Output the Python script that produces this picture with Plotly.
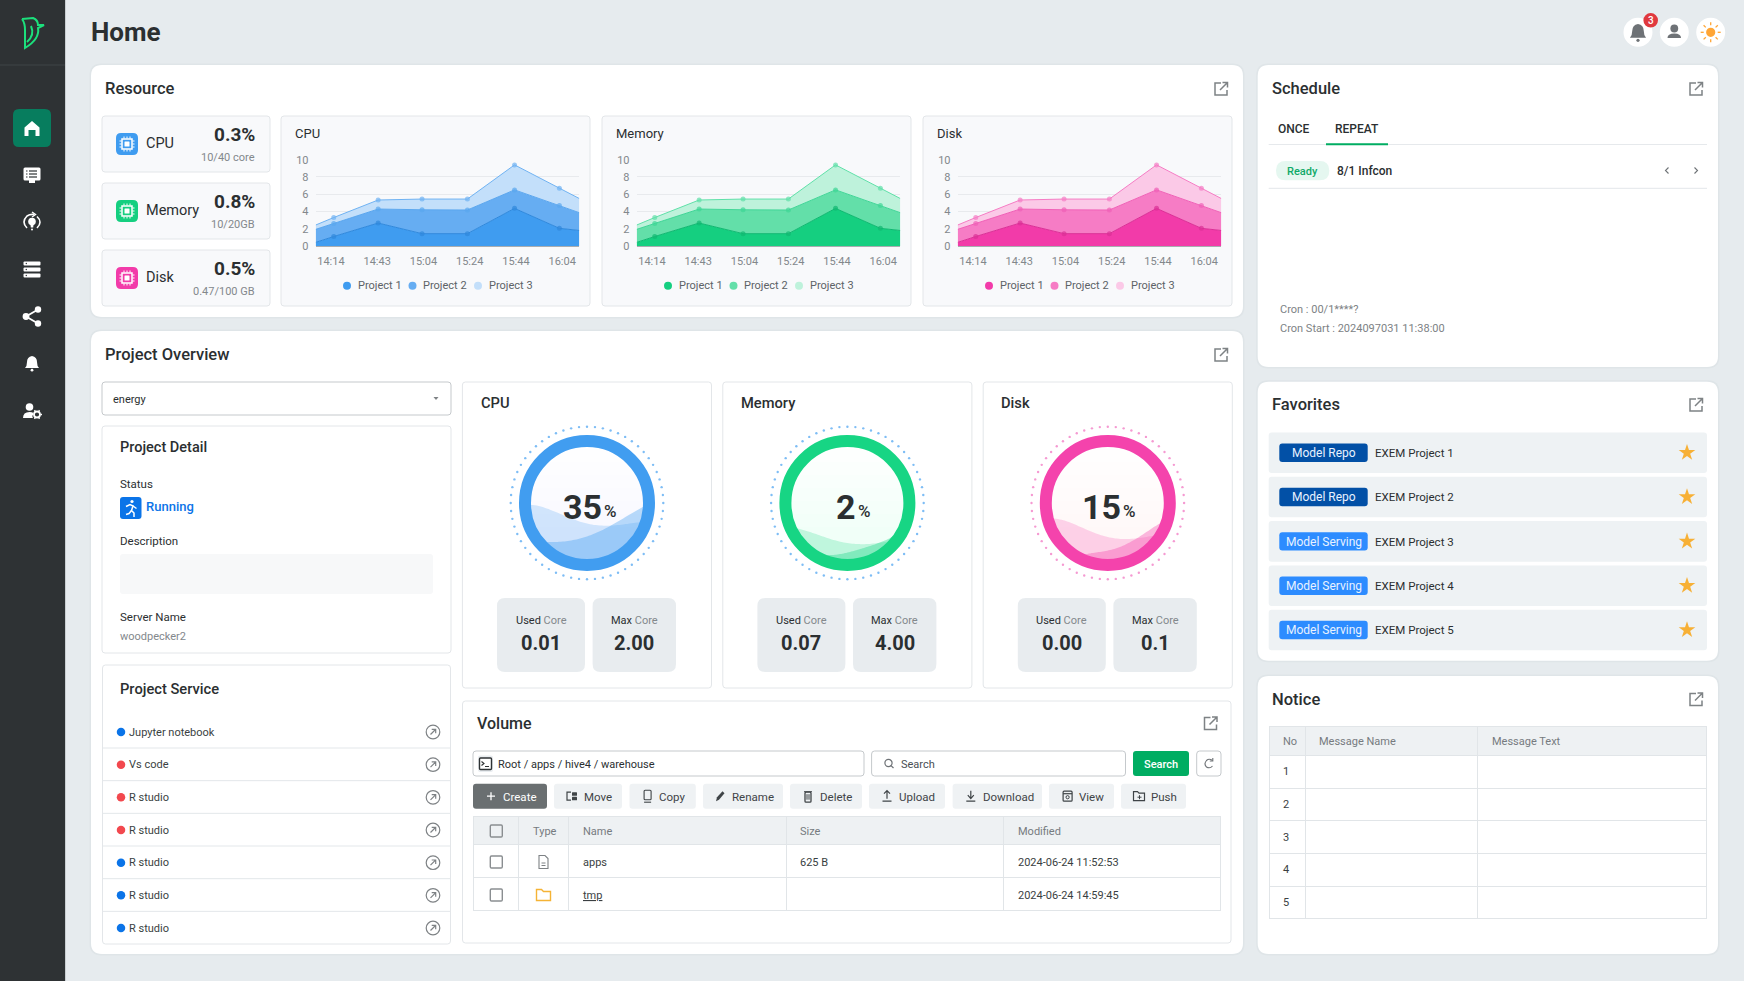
import numpy as np
import plotly.graph_objects as go

W, H = 1744, 981

# chart data
time_labels = ["14:14", "14:43", "15:04", "15:24", "15:44", "16:04"]
time_ticks = [0, 1, 2, 3, 4, 5]
sample_pos = [-0.33, 0.06, 1.02, 1.97, 2.95, 3.97, 4.94, 5.37]
project1 = [0.42, 1.10, 2.66, 1.43, 1.43, 4.36, 2.05, 1.80]
project2 = [1.51, 1.50, 1.62, 2.77, 2.74, 2.14, 2.65, 2.06]
project3 = [0.50, 0.70, 1.05, 1.24, 1.27, 2.90, 2.00, 1.64]
project_names = ["Project 1", "Project 2", "Project 3"]
y_ticks = [0, 2, 4, 6, 8, 10]

resources = ["CPU", "Memory", "Disk"]
usage_pct = ["0.3%", "0.8%", "0.5%"]
usage_sub = ["10/40 core", "10/20GB", "0.47/100 GB"]
gauge_pct = [35, 2, 15]
used_core = ["0.01", "0.07", "0.00"]
max_core = ["2.00", "4.00", "0.1"]

services = ["Jupyter notebook", "Vs code", "R studio", "R studio", "R studio", "R studio", "R studio"]
service_up = [True, False, False, False, True, True, True]
toolbar = ["Create", "Move", "Copy", "Rename", "Delete", "Upload", "Download", "View", "Push"]
fav_type = ["Model Repo", "Model Repo", "Model Serving", "Model Serving", "Model Serving"]
fav_name = ["EXEM Project 1", "EXEM Project 2", "EXEM Project 3", "EXEM Project 4", "EXEM Project 5"]
volume_header = ["Type", "Name", "Size", "Modified"]
volume_name = ["apps", "<u>tmp</u>"]
volume_size = ["625 B", ""]
volume_modified = ["2024-06-24 11:52:53", "2024-06-24 14:59:45"]
notice_header = ["No", "Message Name", "Message Text"]
notice_no = ["1", "2", "3", "4", "5"]

# colours
BG = "#E6EBEE"
DARK = "#2B2F31"
GREY = "#83888C"
EDGE = "#E3E7EA"
FONT = "Roboto"
fills = [["#3F9CF0", "#66ADF2", "#C3DFFA"], ["#15CF80", "#63DFA9", "#BEF2DB"], ["#F23BA9", "#F67CC5", "#FBC9E7"]]
lines = [["#2F88DC", "#5AA6EE", "#6FB2F2"], ["#10B871", "#3FD596", "#5FE0A8"], ["#DB2F96", "#F05FB6", "#F57CC4"]]
ring_rgb = [(65, 157, 240), (23, 213, 132), (244, 67, 172)]
dot_col = ["#7EBDF5", "#7EBDF5", "#F59AD2"]

shapes = []
notes = []
fig = go.Figure()


def rrect(x0, y0, x1, y1, r, fill, line=None, lw=1, layer="below"):
    p = (f"M {x0+r},{y0} L {x1-r},{y0} Q {x1},{y0} {x1},{y0+r} L {x1},{y1-r} Q {x1},{y1} {x1-r},{y1} "
         f"L {x0+r},{y1} Q {x0},{y1} {x0},{y1-r} L {x0},{y0+r} Q {x0},{y0} {x0+r},{y0} Z")
    shapes.append(dict(type="path", path=p, fillcolor=fill, layer=layer, xref="x", yref="y",
                       line=dict(color=line or "rgba(0,0,0,0)", width=lw if line else 0)))


def path(p, color=None, fill=None, lw=1.5, layer="below"):
    shapes.append(dict(type="path", path=p, layer=layer, xref="x", yref="y",
                       fillcolor=fill or "rgba(0,0,0,0)",
                       line=dict(color=color or "rgba(0,0,0,0)", width=lw if color else 0)))


def circle(cx, cy, r, fill=None, color=None, lw=1.5, layer="below"):
    shapes.append(dict(type="circle", x0=cx-r, x1=cx+r, y0=cy-r, y1=cy+r, layer=layer, xref="x", yref="y",
                       fillcolor=fill or "rgba(0,0,0,0)",
                       line=dict(color=color or "rgba(0,0,0,0)", width=lw if color else 0)))


def hline(x0, x1, y, color=EDGE, lw=1):
    shapes.append(dict(type="line", x0=x0, x1=x1, y0=y, y1=y, layer="below", xref="x", yref="y",
                       line=dict(color=color, width=lw)))


def txt(x, y, s, size=11, color=DARK, anchor="left", weight=400):
    notes.append(dict(x=x, y=y, xref="x", yref="y", text=s, showarrow=False, xanchor=anchor, yanchor="middle",
                      borderpad=0, borderwidth=0, font=dict(family=FONT, size=size, color=color, weight=weight)))


def dots(xs, ys, color, size, symbol="circle"):
    fig.add_trace(go.Scatter(x=xs, y=ys, mode="markers", hoverinfo="skip", showlegend=False, xaxis="x", yaxis="y",
                             marker=dict(color=color, size=size, symbol=symbol, line=dict(width=0))))


def card(x0, y0, x1, y1):
    rrect(x0-1.5, y0-1.5, x1+1.5, y1+1.5, 12, "#DFE5E8")
    rrect(x0, y0, x1, y1, 11, "white")


def expand_icon(cx, cy):
    c = "#7E8285"
    path(f"M {cx},{cy-6} L {cx-6},{cy-6} L {cx-6},{cy+6} L {cx+6},{cy+6} L {cx+6},{cy+1}", color=c)
    path(f"M {cx-1},{cy+1} L {cx+6},{cy-6} M {cx+1.5},{cy-6.5} L {cx+6.5},{cy-6.5} L {cx+6.5},{cy-1.5}", color=c)


def bell(cx, cy, col, s=1.0, layer="below"):
    p = (f"M {cx-7*s},{cy+5*s} Q {cx-5*s},{cy+3*s} {cx-5*s},{cy-1*s} Q {cx-5*s},{cy-6*s} {cx},{cy-7*s} "
         f"Q {cx+5*s},{cy-6*s} {cx+5*s},{cy-1*s} Q {cx+5*s},{cy+3*s} {cx+7*s},{cy+5*s} Z")
    path(p, fill=col, layer=layer)
    circle(cx, cy+7.2*s, 1.4*s, fill=col)


def chip(cx, cy, col):
    rrect(cx-11, cy-11, cx+11, cy+11, 5, col)
    path(f"M {cx-5},{cy-5} L {cx+5},{cy-5} L {cx+5},{cy+5} L {cx-5},{cy+5} Z", color="white", lw=1.5)
    rrect(cx-2.5, cy-2.5, cx+2.5, cy+2.5, 0.5, "white")
    for d in (-3, 0, 3):
        path(f"M {cx+d},{cy-7.5} L {cx+d},{cy-5.5} M {cx+d},{cy+5.5} L {cx+d},{cy+7.5} "
             f"M {cx-7.5},{cy+d} L {cx-5.5},{cy+d} M {cx+5.5},{cy+d} L {cx+7.5},{cy+d}", color="white", lw=1)


def wave(cx, cy, r, ctrl, fill):
    # area under a control curve, clipped to the gauge disc
    zx = np.array([p[0] for p in ctrl], float)
    zy = np.array([p[1] for p in ctrl], float)
    co = np.polyfit(zx, zy, 4)
    xs = np.linspace(zx[0]-12, zx[-1]+12, 70)
    ys = np.polyval(co, xs)
    keep = xs**2 + ys**2 <= r**2
    xs, ys = xs[keep], ys[keep]
    a1 = np.arctan2(ys[-1], xs[-1])
    a2 = np.arctan2(ys[0], xs[0]) % (2*np.pi)
    arc = np.linspace(a1, a2, 40)
    px = np.r_[xs, r*np.cos(arc)] + cx
    py = np.r_[ys, r*np.sin(arc)] + cy
    path("M " + " L ".join(f"{a:.1f},{b:.1f}" for a, b in zip(px, py)) + " Z", fill=fill)


# page frame and sidebar
rrect(-5, -5, 65, H+5, 0, "#2E3234")
shapes.append(dict(type="line", x0=65.5, x1=65.5, y0=0, y1=H, layer="below", xref="x", yref="y",
                   line=dict(color="#C9CED1", width=1)))
hline(0, 65, 65, "#3F4446", 1)
path("M 22,19 L 33,18 Q 38,20 38,25 L 44,25 L 38,28 Q 40,39 25,48 L 25,30 Q 25,23 22,19", color="#1CE07C", lw=2)
path("M 31,26 Q 35,35 27,42", color="#1CE07C", lw=2)
rrect(13, 109, 51, 147, 6, "#077D5E")
path("M 32,121 L 39.5,127.5 L 39.5,136 L 35.5,136 L 35.5,130 L 28.5,130 L 28.5,136 L 24.5,136 L 24.5,127.5 Z", fill="white")
# chat
rrect(23.5, 167.5, 40.5, 180.5, 1.5, "white")
path("M 29,180 L 35,180 L 35,183 L 29,183 Z", fill="white")
for yy in (171, 174, 177):
    hline(29, 37, yy, "#2E3234", 1.2)
    hline(26, 27.5, yy, "#2E3234", 1.2)
# cycle + bulb
path("M 27,228 Q 21,222 27,216 Q 30,214 34,214.5 M 37,216.5 Q 43,222 37,228", color="white", lw=1.6)
path("M 32,212 L 35.5,214.5 L 32,217", color="white", lw=1.4)
circle(32, 221.5, 3.8, fill="white")
path("M 30.4,224 L 33.6,224 L 33.2,227.5 L 30.8,227.5 Z", fill="white")
circle(32, 229.5, 1, fill="white")
# servers
for yy in (263.5, 269.5, 275.5):
    rrect(23.5, yy-2, 40.5, yy+2, 1, "white")
    circle(26.3, yy, 0.7, fill="#2E3234")
# share
path("M 38,309.5 L 26,316.5 L 38,323.5", color="white", lw=1.8)
circle(38, 309.5, 3.2, fill="white")
circle(26, 316.5, 3.4, fill="white")
circle(38, 323.5, 3.2, fill="white")
bell(32, 363, "white")
# user + gear
circle(29.5, 407, 3.8, fill="white")
path("M 23,418 Q 23,412 29.5,412 Q 32,412 33.5,413 Q 31.5,416 33,418 Z", fill="white")
circle(37, 414.5, 3, color="white", lw=1.8)
for ang in np.arange(0, 360, 60):
    ax, ay = np.cos(np.radians(ang)), np.sin(np.radians(ang))
    path(f"M {37+3.6*ax:.1f},{414.5+3.6*ay:.1f} L {37+5*ax:.1f},{414.5+5*ay:.1f}", color="white", lw=1.3)

txt(91, 32, "Home", 26, DARK, weight=700)
# header buttons
for cx in (1638, 1674.3, 1710.7):
    circle(cx, 32.3, 14.5, fill="white")
bell(1638, 32, "#6E7276", s=1.15)
circle(1650.7, 20.3, 7.3, fill="#E0393E")
txt(1650.7, 20.6, "3", 10, "white", "center", 500)
circle(1674.3, 28.5, 3.9, fill="#6E7276")
path("M 1667.5,38 Q 1667.5,33.5 1674.3,33.5 Q 1681,33.5 1681,38 Z", fill="#6E7276")
circle(1710.7, 32.3, 4.6, fill="#FFA535")
for ang in np.arange(0, 360, 45):
    ax, ay = np.cos(np.radians(ang)), np.sin(np.radians(ang))
    path(f"M {1710.7+7*ax:.1f},{32.3+7*ay:.1f} L {1710.7+10*ax:.1f},{32.3+10*ay:.1f}", color="#FFA535", lw=1.3)

# resource card
card(91, 65, 1243, 317)
txt(105, 88, "Resource", 16.5, DARK, weight=500)
expand_icon(1221, 89)
for i, res in enumerate(resources):
    y0 = 116 + 67*i
    rrect(102, y0, 270, y0+56, 3, "#F8F9FB", "#E3E6E9")
    chip(127, y0+28, fills[i][0])
    txt(145.5, y0+27.5, res, 14.5, DARK)
    txt(254.5, y0+18.5, usage_pct[i], 19, DARK, "right", 700)
    txt(254.5, y0+41, usage_sub[i], 11, GREY, "right")

# area charts
layout_axes = {}
for i, res in enumerate(resources):
    off = 321*i
    rrect(281+off, 116, 590+off, 306, 3, "#F8F9FB", "#E3E6E9")
    txt(295+off, 133, res, 13, DARK)
    n = i + 2
    for j, series in enumerate([project1, project2, project3]):
        sizes = [0] + [5]*6 + [0]
        fig.add_trace(go.Scatter(x=sample_pos, y=series, mode="lines+markers", stackgroup=f"s{n}",
                                 name=project_names[j], showlegend=False, xaxis=f"x{n}", yaxis=f"y{n}",
                                 fillcolor=fills[i][j], line=dict(color=lines[i][j], width=1),
                                 marker=dict(color=lines[i][j], size=sizes, line=dict(width=0))))
    layout_axes[f"xaxis{n}"] = dict(domain=[(315.7+off)/W, (579.3+off)/W], range=[sample_pos[0], sample_pos[-1]],
                                    anchor=f"y{n}", tickmode="array", tickvals=time_ticks, ticktext=time_labels,
                                    showgrid=False, zeroline=False, showline=False, ticks="outside", ticklen=5,
                                    tickcolor="rgba(0,0,0,0)", tickfont=dict(family=FONT, size=11, color=GREY),
                                    fixedrange=True)
    layout_axes[f"yaxis{n}"] = dict(domain=[1-246/H, 1-159.7/H], range=[0, 10], anchor=f"x{n}", tickmode="array",
                                    tickvals=y_ticks, showgrid=True, gridcolor="#E8EAED", gridwidth=1,
                                    zeroline=True, zerolinecolor="#A9ADB1", zerolinewidth=1.5, showline=False,
                                    ticks="outside", ticklen=4, tickcolor="rgba(0,0,0,0)",
                                    tickfont=dict(family=FONT, size=11, color=GREY), fixedrange=True)
    for j in range(3):
        dots([347+off+65.5*j], [285.7], fills[i][j], 8)
        txt(357.7+off+65.5*j, 285.7, project_names[j], 11, "#5D6367")

# project overview card
card(91, 331, 1243, 954)
txt(105, 354, "Project Overview", 16.5, DARK, weight=500)
expand_icon(1221, 355)
rrect(102, 382, 451, 415, 3, "white", "#C5C9CC")
txt(112.5, 399, "energy", 11, DARK)
path("M 433.5,397 L 438.5,397 L 436,400 Z", fill="#7E8285")
rrect(102, 426, 451, 653, 3, "white", "#E3E6E9")
txt(120, 447, "Project Detail", 14.5, DARK, weight=500)
txt(120, 484, "Status", 11.5, DARK)
rrect(120, 497, 141.5, 519, 3, "#0B74E8")
circle(132, 501.5, 1.6, fill="white")
path("M 126,506.5 L 130,504.5 L 133,506 L 131.5,510.5 L 134,513 L 134,517", color="white", lw=1.5)
path("M 133,506 L 136.5,508.5 M 131.5,510.5 L 129,513.5 L 126,514.5", color="white", lw=1.5)
txt(146, 506, "Running", 13, "#0B74E8", weight=500)
txt(120, 541, "Description", 11.5, DARK)
rrect(120, 554, 433, 594, 3, "#F7F8F9")
txt(120, 617, "Server Name", 11.5, DARK)
txt(120, 636, "woodpecker2", 11, GREY)

rrect(102.5, 665, 450.5, 944, 3, "white", "#E3E6E9")
txt(120, 689, "Project Service", 14.7, DARK, weight=500)
for i, name in enumerate(services):
    yy = 732 + 32.67*i
    dots([121], [yy], "#0B74E8" if service_up[i] else "#F2484E", 8.5)
    txt(129, yy, name, 11, "#3A3F42")
    circle(433, yy, 6.8, color="#7E8285", lw=1.2)
    path(f"M {433-2.5},{yy+2.5} L {433+2.5},{yy-2.5} M {433-1.3},{yy-2.7} L {433+2.7},{yy-2.7} L {433+2.7},{yy+1.3}",
         color="#7E8285", lw=1.2)
    if i < 6:
        hline(103, 450, yy+16, "#E3E7EA")

# gauges
wave_back = [
    [(123, 287), (150, 285), (200, 310), (270, 335), (340, 345), (400, 345), (459, 336)],
    [(145, 357), (170, 362), (210, 378), (270, 395), (330, 402), (380, 400), (430, 392)],
    [(135, 327), (165, 330), (210, 352), (270, 375), (330, 385), (390, 385), (445, 375)],
]
wave_front = [
    [(170, 396), (240, 392), (320, 368), (400, 325), (459, 291)],
    [(240, 435), (290, 428), (340, 414), (400, 393), (430, 378)],
    [(230, 432), (300, 420), (380, 385), (415, 362), (450, 340)],
]
num_right = [14.5, 8.5, 13.5]
for i, res in enumerate(resources):
    off = 260.4*i
    rrect(462.4+off, 382, 711.5+off, 688, 3, "white", "#E3E6E9")
    txt(480.5+off, 403, res, 14.7, DARK, weight=500)
    cx, cy = 587+off, 503
    rgb = ",".join(str(c) for c in ring_rgb[i])
    ang = np.arange(60) * 2*np.pi/60
    dots(cx + 76.3*np.cos(ang), cy + 76.3*np.sin(ang), dot_col[i], 2.4)
    circle(cx, cy, 58, fill="white")
    # soft tint growing toward the bottom of the disc
    for level in np.linspace(-54, 50, 9):
        half = np.arccos(level/58)
        arc = np.linspace(np.pi/2-half, np.pi/2+half, 30)
        seg = "M " + " L ".join(f"{cx+58*np.cos(a):.1f},{cy+58*np.sin(a):.1f}" for a in arc) + " Z"
        path(seg, fill=f"rgba({rgb},0.0085)")
    cxz = 291 if i < 2 else 293
    wave(cx, cy, 58, [((a-cxz)/3, (b-279)/3) for a, b in wave_back[i]], f"rgba({rgb},0.22)")
    wave(cx, cy, 58, [((a-cxz)/3, (b-279)/3) for a, b in wave_front[i]], f"rgba({rgb},0.36)")
    circle(cx, cy, 62, color=f"rgb({rgb})", lw=12)
    txt(cx+num_right[i], 507, str(gauge_pct[i]), 34, DARK, "right", 700)
    txt(cx+num_right[i]+2, 511, "%", 17, DARK, "left", 500)
    rrect(497+off, 598, 585+off, 672, 8, "#E8ECEF")
    rrect(592.6+off, 598, 676+off, 672, 8, "#E8ECEF")
    txt(541+off, 620.7, f"Used <span style='color:{GREY}'>Core</span>", 11, DARK, "center")
    txt(634.3+off, 620.7, f"Max <span style='color:{GREY}'>Core</span>", 11, DARK, "center")
    txt(541+off, 643, used_core[i], 20, DARK, "center", 700)
    txt(634.3+off, 643, max_core[i], 20, DARK, "center", 700)

# volume panel
rrect(462.5, 701, 1231, 943, 3, "white", "#E3E6E9")
txt(477, 723, "Volume", 16, DARK, weight=500)
expand_icon(1210.5, 723.5)
rrect(473, 751, 864, 776, 3, "white", "#C5C9CC")
rrect(478, 755.5, 493, 772, 2, "#E9EDF0")
rrect(479.5, 758, 491.5, 769.5, 1, "white", "#2E3234", 1.4)
path("M 481.5,761.5 L 484,763.5 L 481.5,765.5 M 485,766.5 L 489,766.5", color="#2E3234", lw=1.1)
txt(498.3, 764, "Root / apps / hive4 / warehouse", 11, DARK)
rrect(871.6, 751, 1125.5, 776, 3, "white", "#C5C9CC")
circle(888.5, 763, 3.6, color="#6E7276", lw=1.2)
path("M 891,765.6 L 893.5,768", color="#6E7276", lw=1.2)
txt(900.6, 764, "Search", 11, "#4A4F53")
rrect(1133, 751, 1189, 776, 3, "#00AD62")
txt(1161, 764, "Search", 11, "white", "center", 500)
rrect(1196.7, 751, 1221, 776, 3, "white", "#C5C9CC")
path("M 1212.5,760.5 Q 1209,758 1206.5,760.5 Q 1203.5,764 1206.5,767 Q 1210,769 1212.5,766", color="#6E7276", lw=1.1)
path("M 1212.8,758 L 1212.8,761 L 1209.8,761", color="#6E7276", lw=1.1)

btn_x0 = [473, 554, 629.5, 703, 790, 869, 952.6, 1049, 1121]
btn_x1 = [547, 622, 695.8, 783, 862, 945, 1042, 1114, 1186]
btn_text = [503, 584, 659, 732, 819.5, 899, 982.6, 1079, 1150.6]
btn_icon = [491, 572, 647.6, 720, 808, 887, 970.8, 1067.6, 1139]
for i, name in enumerate(toolbar):
    first = i == 0
    rrect(btn_x0[i], 783.7, btn_x1[i], 808.7, 3, "#6A6F71" if first else "#EFF2F4")
    txt(btn_text[i], 796.5, name, 11.5, "white" if first else "#3F4447")
ic = "#3F4447"
bx, by = btn_icon, 796.2
path(f"M {bx[0]-4},{by} L {bx[0]+4},{by} M {bx[0]},{by-4} L {bx[0]},{by+4}", color="white", lw=1.3)
path(f"M {bx[1]-1},{by-4} L {bx[1]-5},{by-4} L {bx[1]-5},{by+4} L {bx[1]-1},{by+4}", color=ic, lw=1.2)
rrect(bx[1], by-4, bx[1]+5, by-0.5, 0.5, ic)
rrect(bx[1], by+0.5, bx[1]+5, by+4, 0.5, ic)
rrect(bx[2]-3.5, by-6, bx[2]+3.5, by+3.5, 1, "rgba(0,0,0,0)", ic, 1.1)
path(f"M {bx[2]-3.5},{by+6} L {bx[2]+3.5},{by+6}", color=ic, lw=1.1)
path(f"M {bx[3]-4},{by+5} L {bx[3]-3},{by+1} L {bx[3]+2.5},{by-5} L {bx[3]+4.5},{by-3} L {bx[3]-1},{by+3.5} Z", fill=ic)
rrect(bx[4]-3, by-4, bx[4]+3, by+6, 1, "rgba(0,0,0,0)", ic, 1.3)
path(f"M {bx[4]-4},{by-4.5} L {bx[4]+4},{by-4.5} M {bx[4]-1},{by-2} L {bx[4]-1},{by+3.5} M {bx[4]+1},{by-2} L {bx[4]+1},{by+3.5}", color=ic, lw=1)
path(f"M {bx[5]},{by+2.5} L {bx[5]},{by-5} M {bx[5]-3},{by-2.5} L {bx[5]},{by-5.5} L {bx[5]+3},{by-2.5} M {bx[5]-4.5},{by+5} L {bx[5]+4.5},{by+5}", color=ic, lw=1.2)
path(f"M {bx[6]},{by-5.5} L {bx[6]},{by+2} M {bx[6]-3},{by-1} L {bx[6]},{by+2.5} L {bx[6]+3},{by-1} M {bx[6]-4.5},{by+5} L {bx[6]+4.5},{by+5}", color=ic, lw=1.2)
rrect(bx[7]-4.5, by-5, bx[7]+4.5, by+5, 1, "rgba(0,0,0,0)", ic, 1.2)
path(f"M {bx[7]-4.5},{by-2.5} L {bx[7]+4.5},{by-2.5}", color=ic, lw=1.2)
circle(bx[7], by+1, 1.6, color=ic, lw=1)
path(f"M {bx[8]-5.5},{by+4.5} L {bx[8]-5.5},{by-4.5} L {bx[8]-1.5},{by-4.5} L {bx[8]},{by-3} L {bx[8]+5.5},{by-3} L {bx[8]+5.5},{by+4.5} Z", color=ic, lw=1.2)
path(f"M {bx[8]-1.5},{by+1} L {bx[8]+2.5},{by+1} M {bx[8]+0.5},{by-1} L {bx[8]+0.5},{by+3}", color=ic, lw=1)


def table_grid(x0, y0, x1, y1, widths, head_h, row_h, n_rows):
    # grid only: a table trace pins its text to the top of the cell, so labels go on as annotations
    blanks = [""] * len(widths)
    fig.add_trace(go.Table(
        domain=dict(x=[x0/W, x1/W], y=[1-y1/H, 1-y0/H]), columnwidth=widths,
        header=dict(values=blanks, height=head_h, fill_color="#EEF1F3", line=dict(color="#E1E5E8", width=1)),
        cells=dict(values=[[""]*n_rows for _ in widths], height=row_h, fill_color="white",
                   line=dict(color="#E1E5E8", width=1)),
    ))


table_grid(473, 816.7, 1221, 912, [45.5, 50, 218, 217.5, 217], 28, 32.7, 2)
for x, label in zip([533, 582.8, 800.4, 1018], volume_header):
    txt(x, 831, label, 11, "#767B7F")
for r, yy in enumerate((862, 895)):
    txt(582.8, yy, volume_name[r], 11, "#3A3F42")
    txt(800.4, yy, volume_size[r], 11, "#3A3F42")
    txt(1018, yy, volume_modified[r], 11, "#3A3F42")

table_grid(1269, 726.7, 1706.7, 920, [36.7, 172, 229], 28.6, 32.7, 5)
for x, label in zip([1283.3, 1319.3, 1492], notice_header):
    txt(x, 741.3, label, 11, "#767B7F")
for r, label in enumerate(notice_no):
    txt(1286, 771.7 + 32.75*r, label, 11, "#3A3F42", "center")

# table icons sit above the table layer
for yy in (831, 862, 895):
    rrect(490.3, yy-6, 502.3, yy+6, 1.2, "white" if yy > 831 else "#EEF1F3", "#8A8E91", 1.4, layer="above")
fx, fy = 543.5, 862
path(f"M {fx-4.5},{fy-6.5} L {fx+1.5},{fy-6.5} L {fx+4.5},{fy-3.5} L {fx+4.5},{fy+6.5} L {fx-4.5},{fy+6.5} Z", color="#7E8285", lw=1.1, layer="above")
path(f"M {fx-2},{fy+1} L {fx+2},{fy+1} M {fx-2},{fy+3.5} L {fx+2},{fy+3.5}", color="#7E8285", lw=1, layer="above")
fy = 895
path(f"M {fx-7},{fy+5.5} L {fx-7},{fy-5.5} L {fx-2},{fy-5.5} L {fx},{fy-3.5} L {fx+7},{fy-3.5} L {fx+7},{fy+5.5} Z", color="#F5B335", lw=1.4, layer="above")

# schedule card
card(1257.7, 65, 1718, 367)
txt(1272, 88, "Schedule", 16.5, DARK, weight=500)
expand_icon(1696, 89)
txt(1293.7, 129, "ONCE", 12, DARK, "center", 500)
txt(1357, 129, "REPEAT", 12, DARK, "center", 500)
hline(1268.7, 1707, 144.5, "#E6E9EC", 1)
hline(1326, 1388, 144.3, "#00AD62", 2)
rrect(1276, 161, 1329.3, 180.3, 9.6, "#E5F7F0")
txt(1302.6, 171, "Ready", 11, "#0FA968", "center", 500)
txt(1337, 171, "8/1 Infcon", 12, DARK, weight=500)
path("M 1668.5,167.5 L 1665.5,170.5 L 1668.5,173.5", color="#6E7276", lw=1.1)
path("M 1694.5,167.5 L 1697.5,170.5 L 1694.5,173.5", color="#6E7276", lw=1.1)
hline(1268.7, 1707, 188.3, "#E3E7EA", 1)
txt(1279.7, 309.5, "Cron : 00/1****?", 11, "#7D8285")
txt(1279.7, 328, "Cron Start : 2024097031 11:38:00", 11, "#7D8285")

# favorites card
card(1257.7, 381.7, 1718, 660.7)
txt(1272, 404, "Favorites", 16.5, DARK, weight=500)
expand_icon(1696, 405)
star_y = []
for i, kind in enumerate(fav_type):
    yc = 452.7 + 44.33*i
    star_y.append(yc)
    rrect(1268.7, yc-20.3, 1707, yc+20.3, 3, "#EEF2F4")
    rrect(1279.3, yc-9.2, 1367.7, yc+9.2, 3, "#0250A6" if "Repo" in kind else "#2D8CFF")
    txt(1323.5, yc+0.3, kind, 12, "#E8F2FF", "center")
    txt(1375.3, yc+0.3, fav_name[i], 11.5, DARK)
dots([1687]*5, star_y, "#F7B035", 12.5, "star")

# notice card
card(1257.7, 676, 1718, 954)
txt(1272, 699, "Notice", 16.5, DARK, weight=500)
expand_icon(1696, 699.5)

axes = dict(xaxis=dict(domain=[0, 1], range=[0, W], visible=False, fixedrange=True),
            yaxis=dict(domain=[0, 1], range=[H, 0], visible=False, fixedrange=True))
fig.update_layout(width=W, height=H, margin=dict(l=0, r=0, t=0, b=0, autoexpand=False), paper_bgcolor=BG,
                  plot_bgcolor="rgba(0,0,0,0)", showlegend=False, shapes=shapes, annotations=notes,
                  font=dict(family=FONT), hovermode=False, **axes, **layout_axes)
fig.write_html("out.html", config={"displayModeBar": False},
               post_script="document.body.style.margin='0';document.body.style.overflow='hidden';")
